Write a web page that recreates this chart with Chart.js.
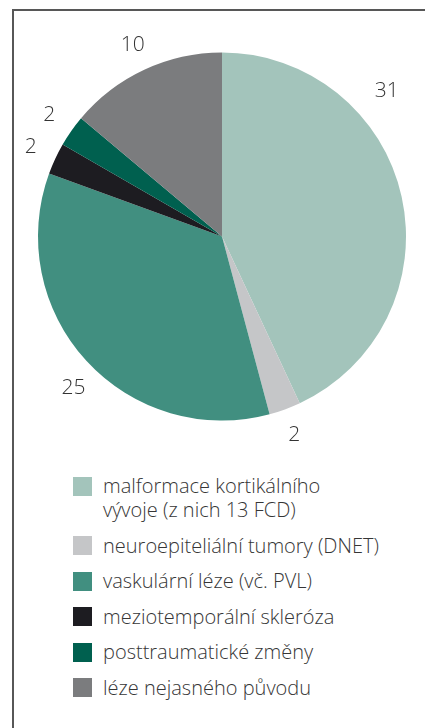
<!DOCTYPE html>
<html>
<head>
<meta charset="utf-8">
<script src="https://cdn.jsdelivr.net/npm/chart.js@4/dist/chart.umd.min.js"></script>
<style>
  body { margin: 0; background: #fff; width: 425px; height: 728px; overflow: hidden; position: relative; font-family: "Open Sans", sans-serif; }
  #frame { position: absolute; left: 12px; top: 9px; width: 430px; height: 740px; border-left: 2px solid #575757; border-top: 2px solid #575757; }
  #wrap { position: absolute; left: 0; top: 0; width: 425px; height: 460px; }
  #legend { position: absolute; left: 73px; top: 474px; margin: 0; padding: 0; list-style: none; }
  #legend li { display: flex; align-items: flex-start; margin-bottom: 11.5px; font-size: 20px; line-height: 24px; color: #363636; font-weight: 300; }
  #legend .sw { flex: none; width: 19px; height: 19px; margin-top: 2.5px; margin-right: 11px; }
</style>
</head>
<body>
<div id="frame"></div>
<div id="wrap"><canvas id="myChart" width="425" height="460"></canvas></div>
<ul id="legend"></ul>
<script>
var labels = [
  ['malformace kortikálního', 'vývoje (z nich 13 FCD)'],
  'neuroepiteliální tumory (DNET)',
  'vaskulární léze (vč. PVL)',
  'meziotemporální skleróza',
  'posttraumatické změny',
  'léze nejasného původu'
];
var values = [31, 2, 25, 2, 2, 10];
var colors = ['#a3c4bb', '#c5c6c8', '#418f80', '#1d1c21', '#00604f', '#7b7c7e'];

// numbers outside the slices, like the original
var outsideLabels = {
  id: 'outsideLabels',
  afterDatasetsDraw: function(chart, args, opts) {
    var ctx = chart.ctx;
    var meta = chart.getDatasetMeta(0);
    ctx.save();
    ctx.font = '300 21px "Open Sans", sans-serif';
    ctx.fillStyle = '#333';
    ctx.textAlign = 'center';
    ctx.textBaseline = 'middle';
    meta.data.forEach(function(arc, i) {
      var a = (arc.startAngle + arc.endAngle) / 2 + (opts.shift[i] || 0) * Math.PI / 180;
      var r = arc.outerRadius + opts.offset + (opts.extra[i] || 0);
      ctx.fillText(String(values[i]), arc.x + Math.cos(a) * r, arc.y + Math.sin(a) * r);
    });
    ctx.restore();
  }
};

var ctx = document.getElementById('myChart').getContext('2d');
var chart = new Chart(ctx, {
    type: 'pie',
    data: {
        labels: labels,
        datasets: [{
            data: values,
            backgroundColor: colors,
            borderWidth: 0
        }]
    },
    options: {
        responsive: false,
        animation: false,
        layout: { padding: { left: 38, right: 19, top: 52, bottom: 39 } },
        plugins: {
            legend: { display: false },
            tooltip: { enabled: false },
            outsideLabels: { offset: 27, shift: [-29, 0, -3, 0, 0, 0], extra: [9, 0, 1, 0, 0, 0] }
        }
    },
    plugins: [outsideLabels]
});

// legend as html so the first entry can wrap onto two lines
var ul = document.getElementById('legend');
labels.forEach(function(l, i) {
    var li = document.createElement('li');
    var sw = document.createElement('span');
    sw.className = 'sw';
    sw.style.background = colors[i];
    var tx = document.createElement('span');
    tx.innerHTML = Array.isArray(l) ? l.join('<br>') : l;
    li.appendChild(sw);
    li.appendChild(tx);
    ul.appendChild(li);
});
</script>
</body>
</html>
